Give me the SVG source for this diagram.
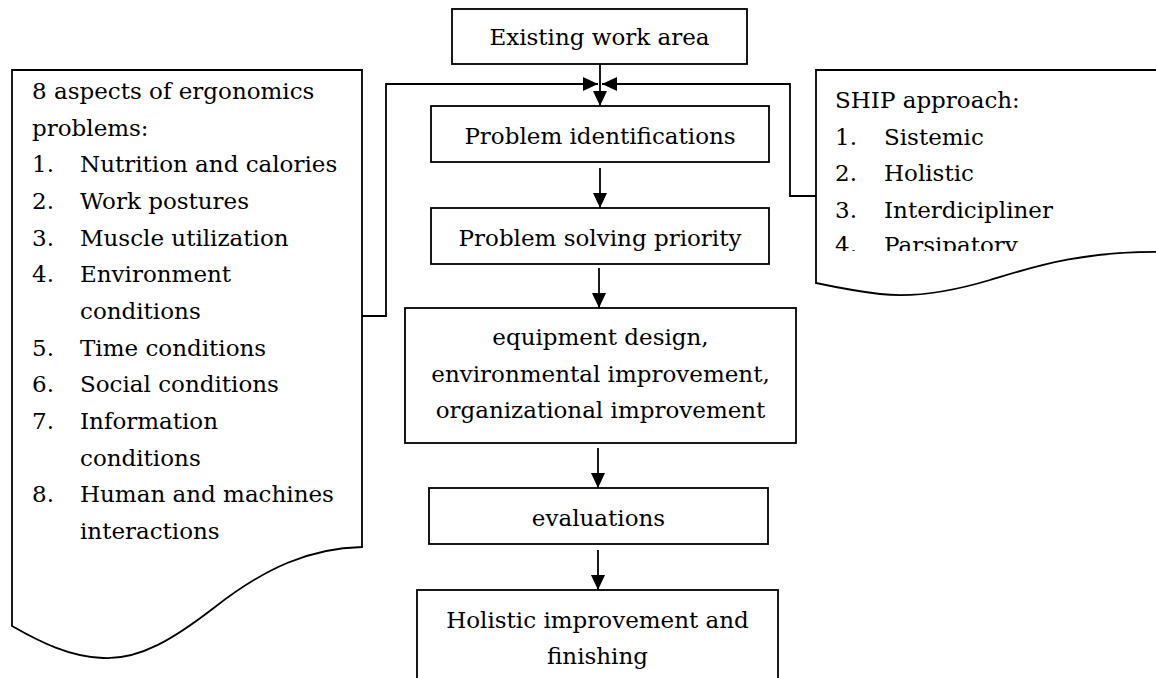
<svg xmlns="http://www.w3.org/2000/svg" width="1156" height="678" viewBox="0 0 1156 678">
<style>
.box{fill:#fff;stroke:#000;stroke-width:1.8}
.ln{fill:none;stroke:#000;stroke-width:1.8}
text{font-family:"DejaVu Serif","Liberation Serif",serif;font-size:23px;fill:#000}
.c{text-anchor:middle}
</style>
<defs>
<marker id="ah" markerUnits="userSpaceOnUse" markerWidth="17" markerHeight="15" refX="15" refY="7" orient="auto">
<path d="M0,0 L15,7 L0,14 Z" fill="#000"/>
</marker>
<clipPath id="shipclip"><rect x="816" y="70" width="340" height="181"/></clipPath>
</defs>
<rect width="1156" height="678" fill="#fff"/>

<g id="aspects">
<path class="box" d="M12,70 H362 V547 C310,548 265,568 215,607 C175,638 140,660 103,658 C70,657 40,642 12,626 Z"/>
<text x="32" y="99">8 aspects of ergonomics</text>
<text x="32" y="135.7">problems:</text>
<text x="32" y="172.3">1.</text><text x="80" y="172.3">Nutrition and calories</text>
<text x="32" y="209">2.</text><text x="80" y="209">Work postures</text>
<text x="32" y="245.7">3.</text><text x="80" y="245.7">Muscle utilization</text>
<text x="32" y="282.3">4.</text><text x="80" y="282.3">Environment</text>
<text x="80" y="319">conditions</text>
<text x="32" y="355.7">5.</text><text x="80" y="355.7">Time conditions</text>
<text x="32" y="392.3">6.</text><text x="80" y="392.3">Social conditions</text>
<text x="32" y="429">7.</text><text x="80" y="429">Information</text>
<text x="80" y="465.7">conditions</text>
<text x="32" y="502.3">8.</text><text x="80" y="502.3">Human and machines</text>
<text x="80" y="539">interactions</text>
</g>

<g id="ship">
<path class="box" d="M816,70 H1170 V252 C1080,250 1030,268 990,280 C950,292 915,298 880,294 C855,291 835,287 816,283 Z"/>
<g clip-path="url(#shipclip)">
<text x="835" y="108">SHIP approach:</text>
<text x="835" y="144.5">1.</text><text x="884" y="144.5">Sistemic</text>
<text x="835" y="181">2.</text><text x="884" y="181">Holistic</text>
<text x="835" y="217.5">3.</text><text x="884" y="217.5">Interdicipliner</text>
<text x="835" y="253">4.</text><text x="884" y="253">Parsipatory</text>
</g>
</g>

<g id="existing">
<rect class="box" x="452" y="9" width="295" height="55"/>
<text class="c" x="599.5" y="45">Existing work area</text>
</g>
<g id="identification">
<rect class="box" x="431" y="106" width="338" height="56"/>
<text class="c" x="600" y="144">Problem identifications</text>
</g>
<g id="priority">
<rect class="box" x="431" y="208" width="338" height="56"/>
<text class="c" x="600" y="246">Problem solving priority</text>
</g>
<g id="design">
<rect class="box" x="405" y="308" width="391" height="135"/>
<text class="c" x="600.5" y="345">equipment design,</text>
<text class="c" x="600.5" y="382">environmental improvement,</text>
<text class="c" x="600.5" y="418">organizational improvement</text>
</g>
<g id="evaluations">
<rect class="box" x="429" y="488" width="339" height="56"/>
<text class="c" x="598.5" y="526">evaluations</text>
</g>
<g id="holistic">
<rect class="box" x="417" y="590" width="361" height="110"/>
<text class="c" x="597.5" y="628">Holistic improvement and</text>
<text class="c" x="597.5" y="664">finishing</text>
</g>

<g id="connectors">
<path class="ln" d="M600,64 V106" marker-end="url(#ah)"/>
<path class="ln" d="M362,316 H386 V84 H598" marker-end="url(#ah)"/>
<path class="ln" d="M816,196 H790 V84 H602" marker-end="url(#ah)"/>
<path class="ln" d="M600,168 V208" marker-end="url(#ah)"/>
<path class="ln" d="M599,268 V308" marker-end="url(#ah)"/>
<path class="ln" d="M598,448 V488" marker-end="url(#ah)"/>
<path class="ln" d="M598,550 V590" marker-end="url(#ah)"/>
</g>
</svg>
